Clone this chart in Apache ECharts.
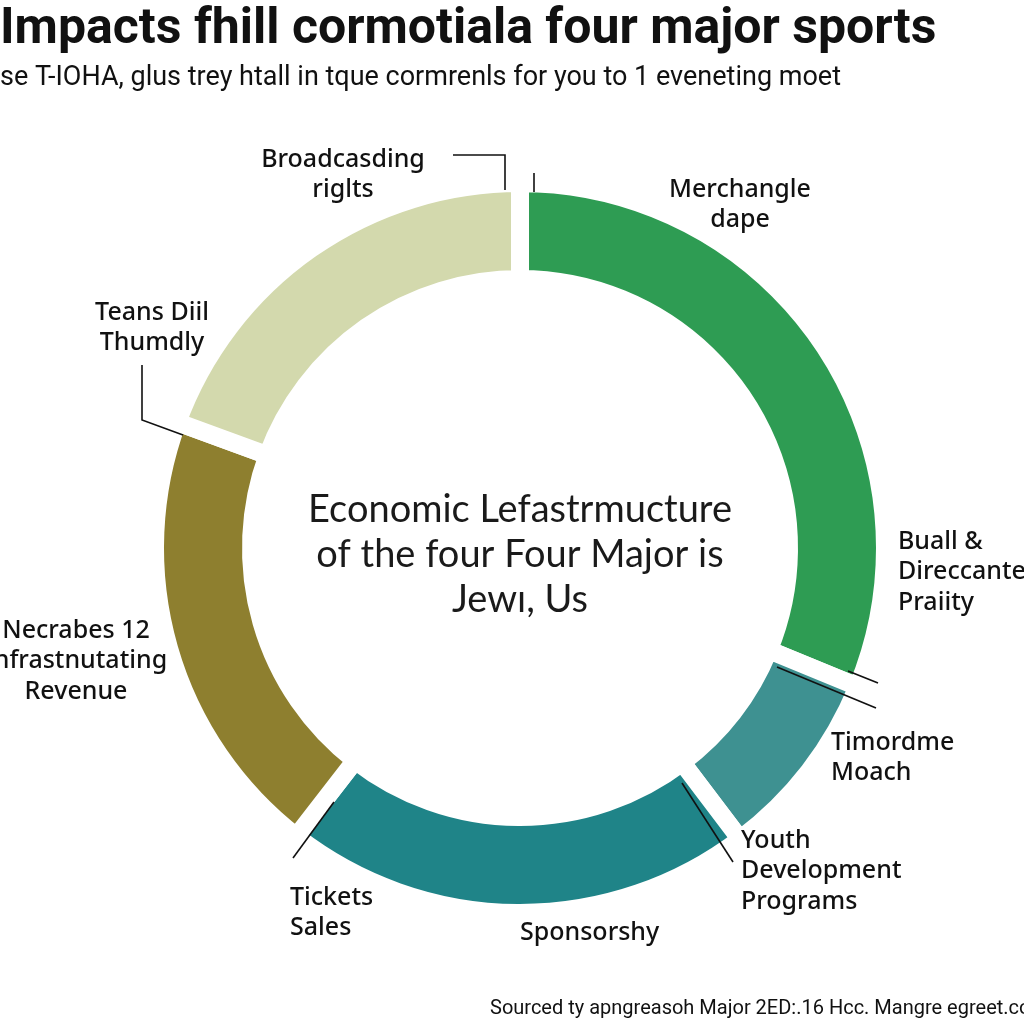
<!DOCTYPE html>
<html>
<head>
<meta charset="utf-8">
<script src="https://cdn.jsdelivr.net/npm/echarts@6/dist/echarts.min.js"></script>
<style>html,body{margin:0;padding:0;background:#fff}#c{width:1024px;height:1024px}</style>
</head>
<body>
<div id="c"></div>
<script>
// ---- data ----
const titleText = "Impacts fhill cormotiala four major sports";
const subtitleText = "se T-IOHA, glus trey htall in tque cormrenls for you to 1 eveneting moet";
const centerText = "Economic Lefastrmucture\nof the four Four Major is\nJewı, Us";
const footerText = "Sourced ty apngreasoh Major 2ED:.16 Hcc. Mangre egreet.com";
const segmentNames = ["Merchangle dape", "Timordme Moach", "Sponsorshy", "Necrabes 12 Infrastnutating Revenue", "Broadcasding riglts"];
const segmentValues = [31.2, 8.5, 20.8, 20.1, 19.4];
const segmentColors = ["#2e9c53", "#3e9191", "#1f8488", "#8e7f2f", "#d3d9ad"];
const labelTexts = [
  "Broadcasding\nriglts",
  "Merchangle\ndape",
  "Teans Diil\nThumdly",
  "Necrabes 12\nInfrastnutating\nRevenue",
  "Buall &\nDireccante\nPraiity",
  "Timordme\nMoach",
  "Youth\nDevelopment\nPrograms",
  "Tickets\nSales",
  "Sponsorshy"
];

// ---- layout (positions only) ----
const labelLayout = [
  {x: 343, y: 175, align: 'center'},
  {x: 740, y: 205, align: 'center'},
  {x: 152, y: 328, align: 'center'},
  {x: 76, y: 661, align: 'center'},
  {x: 898, y: 572, align: 'left'},
  {x: 831, y: 758, align: 'left'},
  {x: 741, y: 871, align: 'left'},
  {x: 290, y: 913, align: 'left'},
  {x: 520, y: 933, align: 'left'}
];
const leaderLines = [
  [[453,155],[505,155],[505,190]],
  [[534,173],[534,192]],
  [[142,365],[142,420],[183,435]],
  [[848,671],[878,683]],
  [[777,667],[876,708]],
  [[682,783],[733,862]],
  [[334,802],[293,858]]
];

const chart = echarts.init(document.getElementById('c'), null, {renderer: 'canvas'});
const LABEL_FONT = '"Noto Sans", "DejaVu Sans", sans-serif';

const graphics = [];
graphics.push({type: 'text', z: 100, left: 0, top: 5, style: {text: titleText, font: 'bold 50px Roboto, "Liberation Sans", sans-serif', fill: '#111'}});
graphics.push({type: 'text', z: 100, left: 0, top: 65, style: {text: subtitleText, font: '27px Roboto, "Liberation Sans", sans-serif', fill: '#111'}});
graphics.push({type: 'text', z: 100, x: 520, y: 555, style: {text: centerText, font: '38px Lato, "Open Sans", sans-serif', fill: '#1a1a1a', align: 'center', verticalAlign: 'middle', lineHeight: 45}});
graphics.push({type: 'text', z: 100, x: 490, y: 1009, style: {text: footerText, font: '20px Roboto, "Liberation Sans", sans-serif', fill: '#111', verticalAlign: 'middle'}});
labelTexts.forEach((t, i) => {
  const p = labelLayout[i];
  graphics.push({type: 'text', z: 100, x: p.x, y: p.y, style: {text: t, font: '500 25px ' + LABEL_FONT, fill: '#111', align: p.align, verticalAlign: 'middle', lineHeight: 30.5}});
});
leaderLines.forEach(pts => {
  graphics.push({type: 'polyline', z: 100, shape: {points: pts}, style: {stroke: '#111', lineWidth: 1.6, fill: null}});
});

chart.setOption({
  backgroundColor: '#ffffff',
  animation: false,
  series: [{
    type: 'pie',
    z: 1,
    center: [520, 548],
    radius: [269, 365],
    startAngle: 90,
    clockwise: true,
    label: {show: false},
    labelLine: {show: false},
    itemStyle: {borderColor: '#ffffff', borderWidth: 18},
    emphasis: {disabled: true},
    data: segmentNames.map((n, i) => ({name: n, value: segmentValues[i], itemStyle: {color: segmentColors[i]}}))
  }],
  graphic: graphics
});
</script>
</body>
</html>
